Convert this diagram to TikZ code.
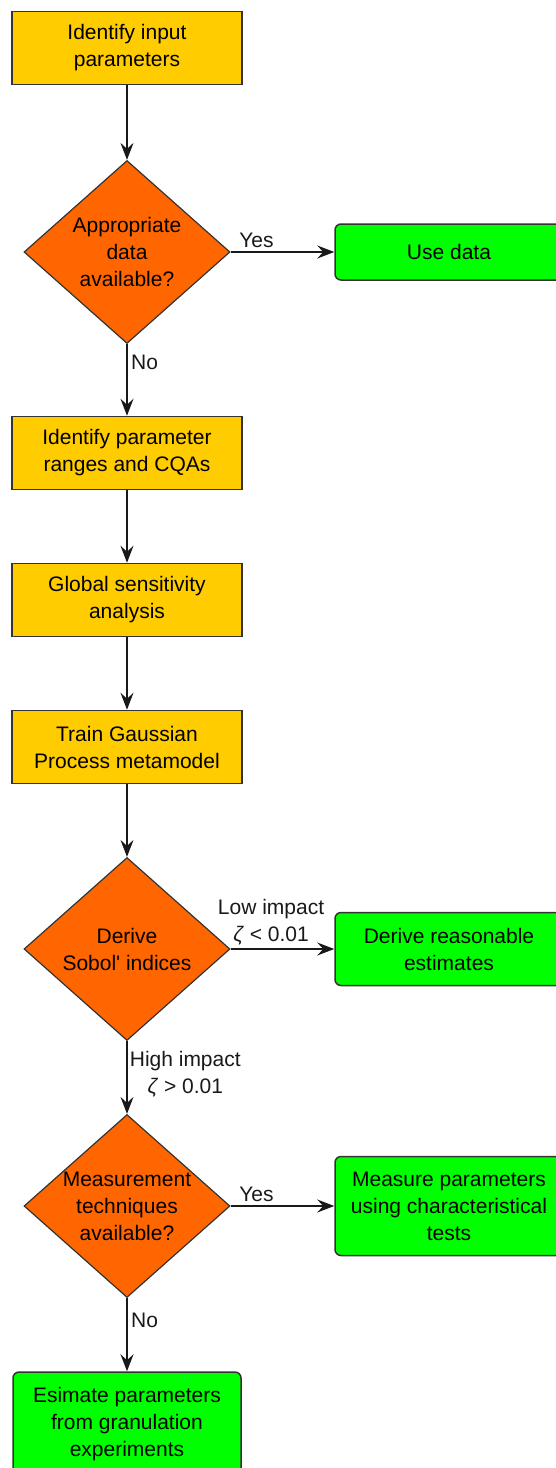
\documentclass[tikz,border=0pt]{standalone}
\usepackage{fontspec}
\setmainfont{Liberation Sans}
\usetikzlibrary{shapes.geometric,arrows.meta}

\definecolor{stepyellow}{HTML}{FFCC00}
\definecolor{steporange}{HTML}{FF6600}
\definecolor{stepgreen}{HTML}{00FF00}

\begin{document}
\begin{tikzpicture}[
    x=1pt, y=-1pt,
    >={Stealth[length=17pt, width=13pt, inset=6pt]},
    font=\fontsize{21}{27}\selectfont,
    task/.style={draw=black!80, line width=1.5pt, fill=stepyellow, minimum width=230pt, minimum height=73pt, align=center},
    decision/.style={draw=black!80, line width=1.2pt, fill=steporange, diamond, inner sep=0pt, minimum width=206pt, minimum height=183pt},
    result/.style={draw=black!80, line width=1.5pt, fill=stepgreen, rounded corners=6pt, minimum width=228pt, minimum height=73pt, align=center},
    flow/.style={->, line width=1.7pt, black!90}
]

    % Page frame
    \clip (0,0) rectangle (556,1468);

    % Main column
    \node[task] (input) at (127, 48) {Identify input\\parameters};
    \node[decision, label={[align=center, name=availtxt]center:{Appropriate\\data\\available?}}] (avail) at (127, 252) {};
    \node[task] (ranges) at (127, 453) {Identify parameter\\ranges and CQAs};
    \node[task] (gsa) at (127, 600) {Global sensitivity\\analysis};
    \node[task] (train) at (127, 747) {Train Gaussian\\Process metamodel};
    \node[decision, label={[align=center, name=sobolxt]center:{Derive\\Sobol\textquotesingle{} indices}}] (sobol) at (127, 949) {};
    \node[decision, label={[align=center, name=measxt]center:{Measurement\\techniques\\available?}}] (meas) at (127, 1206) {};
    \node[result, minimum height=104pt] (estim) at (127, 1424) {Esimate parameters\\from granulation\\experiments};

    % Side outcomes
    \node[result, minimum height=56pt] (usedata) at (449, 252) {Use data};
    \node[result] (reason) at (449, 949) {Derive reasonable\\estimates};
    \node[result, minimum height=99pt] (measure) at (449, 1206) {Measure parameters\\using characteristical\\tests};

    % Connectors
    \draw[flow] (input) -- (avail);
    \draw[flow] (avail) -- node[pos=0.25, above] {Yes} (usedata);
    \draw[flow] (avail) -- node[pos=0.26, right] {No} (ranges);
    \draw[flow] (ranges) -- (gsa);
    \draw[flow] (gsa) -- (train);
    \draw[flow] (train) -- (sobol);
    \draw[flow] (sobol) -- node[pos=0.39, above, align=center] {Low impact\\\textit{ζ} < 0.01} (reason);
    \draw[flow] (sobol) -- node[pos=0.45, right, align=center, inner sep=2pt] {High impact\\\textit{ζ} > 0.01} (meas);
    \draw[flow] (meas) -- node[pos=0.25, above] {Yes} (measure);
    \draw[flow] (meas) -- node[pos=0.3, right] {No} (estim);

\end{tikzpicture}
\end{document}
